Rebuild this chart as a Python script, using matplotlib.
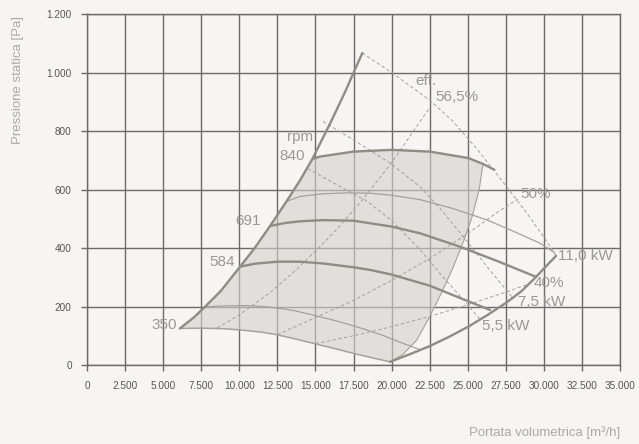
import matplotlib.pyplot as plt
import numpy as np

# left limit curve (rpm start points)
lim_x = [6100, 7000, 7750, 8800, 10050, 11000, 12020, 13100, 14000, 14800, 16000, 17000, 17490, 18080]
lim_y = [126, 163, 200, 255, 337, 400, 476, 560, 633, 705, 830, 940, 998, 1067]

# right limit curve
rlim_x = [19900, 21200, 22520, 23800, 25100, 26300, 27560, 28500, 29450, 30100, 30800]
rlim_y = [12, 38, 66, 98, 134, 172, 215, 252, 300, 336, 374]

# rpm curves
rpm840_x = [14800, 15300, 17490, 20000, 22520, 25040, 26000, 26750]
rpm840_y = [705, 713, 730, 736, 730, 708, 688, 668]
rpm691_x = [12020, 13000, 14000, 15500, 17490, 20000, 21870, 24500, 27000, 29450]
rpm691_y = [476, 486, 492, 496, 494, 474, 451, 405, 355, 303]
rpm584_x = [10050, 11000, 12520, 13990, 15500, 17490, 18590, 20000, 22500, 24500, 26470]
rpm584_y = [337, 347, 354, 354, 348, 335, 326, 310, 272, 230, 189]
rpm350_x = [6100, 7500, 9000, 10050, 11500, 12520, 13700, 14860, 16200, 17490, 18700, 19900]
rpm350_y = [126, 127, 125, 121, 113, 104, 90, 75, 58, 41, 26, 12]

# thin curves
thin_lo_x = [7750, 9000, 10500, 12000, 13500, 15000, 16500, 18000, 19500, 20700, 21800]
thin_lo_y = [200, 203, 204, 199, 188, 170, 150, 127, 101, 76, 55]
thin_hi_x = [13100, 14000, 15500, 17000, 18600, 20000, 21870, 24000, 26250, 28000, 29750, 30700]
thin_hi_y = [560, 577, 586, 589, 588, 581, 566, 536, 497, 458, 417, 385]

# shaded area right edge
edge_x = [26000, 25750, 25300, 24700, 24000, 23300, 22500, 21650, 20700, 19900]
edge_y = [688, 600, 510, 420, 330, 250, 166, 86, 35, 12]

# power lines (dashed)
kw11_x = [18080, 20000, 22520, 24000, 25590, 27560, 29090, 30100, 30800]
kw11_y = [1067, 1000, 905, 835, 740, 610, 505, 430, 374]
kw75_x = [15500, 17500, 19900, 21870, 23200, 24300, 25150, 26500, 28000]
kw75_y = [833, 770, 691, 610, 535, 465, 410, 322, 228]
kw55_x = [14500, 16610, 18400, 20000, 21870, 22520, 23400, 24700, 25800]
kw55_y = [672, 611, 560, 495, 395, 355, 300, 225, 158]

# efficiency lines (dashed)
eff565_x = [8550, 10000, 12000, 13500, 15000, 16500, 18000, 20000, 22500]
eff565_y = [128, 172, 248, 315, 390, 470, 560, 692, 880]
eff50_x = [12500, 15000, 17500, 20000, 22500, 25000, 27000, 28300]
eff50_y = [105, 163, 222, 290, 365, 450, 525, 568]
eff40_x = [15000, 17500, 20000, 22500, 25000, 27500, 29050]
eff40_y = [74, 101, 132, 167, 207, 250, 279]

x_ticks = [0, 2500, 5000, 7500, 10000, 12500, 15000, 17500, 20000, 22500, 25000, 27500, 30000, 32500, 35000]
x_labels = ["0", "2.500", "5.000", "7.500", "10.000", "12.500", "15.000", "17.500",
            "20.000", "22.500", "25.000", "27.500", "30.000", "32.500", "35.000"]
y_ticks = [0, 200, 400, 600, 800, 1000, 1200]
y_labels = ["0", "200", "400", "600", "800", "1.000", "1.200"]

bg = "#f6f5f3"
grid_c = "#6b6b6b"
thick_c = "#8e8d84"
thin_c = "#a3a29a"
dash_c = "#a0a0a0"
lab_c = "#9a9991"

plt.rcParams["font.family"] = ["Liberation Sans", "DejaVu Sans"]

fig = plt.figure(figsize=(6.39, 4.44), dpi=100, facecolor=bg)
ax = fig.add_axes([0.1362, 0.1772, 0.8341, 0.7912])
ax.set_facecolor(bg)

ax.set_xlim(0, 35000)
ax.set_ylim(0, 1200)
ax.set_xticks(x_ticks)
ax.set_xticklabels(x_labels)
ax.set_yticks(y_ticks)
ax.set_yticklabels(y_labels)
ax.grid(True, color=grid_c, linewidth=1.0)
ax.set_axisbelow(True)
ax.tick_params(colors=grid_c, labelcolor="#555555", labelsize=7.2, length=4, width=1.0, pad=7)
for s in ax.spines.values():
    s.set_color(grid_c)
    s.set_linewidth(1.0)

# shaded working area
i_top = lim_x.index(14800)
j_top = rpm840_x.index(26000)
poly_x = np.concatenate([lim_x[: i_top + 1], rpm840_x[1 : j_top + 1], edge_x[1:], rpm350_x[::-1]])
poly_y = np.concatenate([lim_y[: i_top + 1], rpm840_y[1 : j_top + 1], edge_y[1:], rpm350_y[::-1]])
ax.fill(poly_x, poly_y, color="#d2d1cc", alpha=0.6, lw=0, zorder=1)
ax.plot(edge_x, edge_y, color=thin_c, lw=0.8, zorder=2)

# dashed lines
dash = dict(color=dash_c, lw=0.7, ls=(0, (3.5, 2.5)), zorder=2)
for xs, ys in [(kw11_x, kw11_y), (kw75_x, kw75_y), (kw55_x, kw55_y),
               (eff565_x, eff565_y), (eff50_x, eff50_y), (eff40_x, eff40_y)]:
    ax.plot(xs, ys, **dash)

# thin curves
ax.plot(thin_lo_x, thin_lo_y, color=thin_c, lw=0.9, zorder=3)
ax.plot(thin_hi_x, thin_hi_y, color=thin_c, lw=0.9, zorder=3)
ax.plot(rpm350_x, rpm350_y, color=thin_c, lw=1.1, zorder=3)

# thick curves
for xs, ys in [(lim_x, lim_y), (rlim_x, rlim_y), (rpm840_x, rpm840_y),
               (rpm691_x, rpm691_y), (rpm584_x, rpm584_y)]:
    ax.plot(xs, ys, color=thick_c, lw=1.7, zorder=4, solid_capstyle="round")

# labels
fs = 11
ax.text(5910, 138, "350", ha="right", va="center", fontsize=fs, color=lab_c)
ax.text(9720, 353, "584", ha="right", va="center", fontsize=fs, color=lab_c)
ax.text(11430, 493, "691", ha="right", va="center", fontsize=fs, color=lab_c)
ax.text(14840, 779, "rpm", ha="right", va="center", fontsize=fs, color=lab_c)
ax.text(14320, 716, "840", ha="right", va="center", fontsize=fs, color=lab_c)
ax.text(21540, 972, "eff.", ha="left", va="center", fontsize=fs, color=lab_c)
ax.text(22850, 916, "56,5%", ha="left", va="center", fontsize=fs, color=lab_c)
ax.text(28440, 586, "50%", ha="left", va="center", fontsize=fs, color=lab_c)
ax.text(30930, 372, "11,0 kW", ha="left", va="center", fontsize=fs, color=lab_c)
ax.text(29350, 280, "40%", ha="left", va="center", fontsize=fs, color=lab_c)
ax.text(28300, 216, "7,5 kW", ha="left", va="center", fontsize=fs, color=lab_c)
ax.text(25940, 136, "5,5 kW", ha="left", va="center", fontsize=fs, color=lab_c)

fig.text(18 / 639, 1 - 80 / 444, "Pressione statica [Pa]", rotation=90, ha="center", va="center",
         fontsize=9.5, color="#aaaaa4")
fig.text(620 / 639, 1 - 433 / 444, "Portata volumetrica [m³/h]", ha="right", va="center",
         fontsize=9.5, color="#aaaaa4")

fig.savefig("out.png", dpi=100, facecolor=bg)
